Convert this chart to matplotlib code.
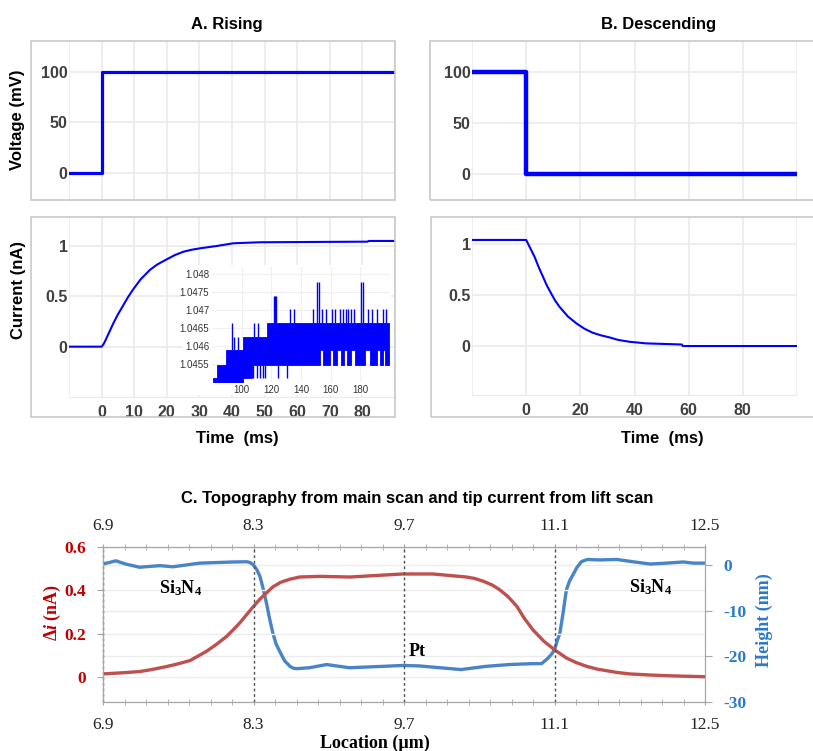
import matplotlib
matplotlib.use('Agg')

import matplotlib.pyplot as plt
from matplotlib.patches import Rectangle
from matplotlib.ticker import FixedLocator
import numpy as np

plt.rcParams['font.family'] = 'Liberation Sans'
plt.rcParams['mathtext.fontset'] = 'custom'
plt.rcParams['mathtext.rm'] = 'Liberation Serif:bold'
plt.rcParams['mathtext.it'] = 'Liberation Serif:bold:italic'
plt.rcParams['mathtext.bf'] = 'Liberation Serif:bold'

# ---- A / B: voltage step and current response ----
volt_rise_t = [-10, 0, 0, 90]
volt_rise_v = [0, 0, 100, 100]
volt_fall_t = [-20, 0, 0, 100]
volt_fall_v = [100, 100, 0, 0]

rise_t = [-10, 0, 0.5, 1.0, 2.0, 3.6, 5.0, 6.7, 8.0, 9.7, 12.0, 14.8, 17.0, 20.0, 22.5, 25.1,
          27.5, 30.2, 35.3, 40.4, 48.6, 81.5, 82.0, 90]
rise_i = [0, 0, 0.02, 0.05, 0.12, 0.232, 0.32, 0.414, 0.487, 0.57, 0.67, 0.762, 0.815, 0.868,
          0.91, 0.943, 0.962, 0.977, 1.0, 1.027, 1.037, 1.043, 1.05, 1.05]

fall_t = [-20, 0, 1.5, 3.1, 4.6, 6.2, 7.7, 9.2, 10.7, 12.3, 15.4, 18.5, 21.5, 24.6, 27.6,
          30.7, 34.0, 38.1, 44.3, 57.5, 57.8, 100]
fall_i = [1.04, 1.04, 0.96, 0.875, 0.775, 0.68, 0.59, 0.517, 0.445, 0.385, 0.29, 0.223, 0.17,
          0.13, 0.105, 0.085, 0.06, 0.042, 0.026, 0.015, 0.0, 0.0]

# zoomed plateau of the rising current (quantised levels)
levels = [1.04498, 1.0451, 1.04548, 1.04588, 1.04626, 1.04665, 1.04702, 1.0474, 1.04778]
seg_start = [80.4, 83.1, 89.4, 101.1, 106.8, 117.0, 123.2, 153.0, 154.8, 159.3, 161.5, 164.2,
             166.9, 168.7, 171.0, 173.7, 176.6, 183.4, 186.8, 191.3, 193.5, 195.3, 196.9]
seg_end = seg_start[1:] + [199.0]
seg_low = [0, 0, 0, 1, 2, 2, 2, 3, 2, 3, 2, 3, 2, 3, 2, 3, 2, 3, 2, 3, 2, 3, 2]
seg_high = [1, 2, 3, 4, 4, 5, 5, 5, 5, 5, 5, 5, 5, 5, 5, 5, 5, 5, 5, 5, 5, 5, 5]
spike_x = [93.2, 94.5, 97.5, 107.9, 108.3, 110.1, 111.0, 112.4, 114.2, 115.8, 121.5, 122.5,
           123.0, 124.8, 130.4, 132.5, 135.0, 148.0, 151.0, 152.0, 154.0, 157.0, 161.0,
           163.0, 166.0, 168.0, 170.0, 172.0, 174.0, 176.0, 180.5, 181.5, 185.0, 188.0,
           191.0, 195.0, 197.5]
spike_low = [3, 3, 3, 1, 4, 1, 4, 1, 1, 1, 5, 5, 5, 1, 1, 5, 5, 5, 5, 5, 5, 5, 5,
             5, 5, 5, 5, 5, 5, 5, 5, 5, 5, 5, 5, 5, 5]
spike_high = [5, 4, 4, 2, 5, 2, 5, 2, 2, 2, 7, 7, 7, 2, 2, 6, 6, 6, 8, 8, 6, 6, 6,
              6, 6, 6, 6, 6, 6, 6, 8, 8, 6, 6, 6, 6, 6]

# ---- C: line scan across Si3N4 / Pt / Si3N4 ----
loc_i = [6.9, 7.0, 7.1, 7.24, 7.35, 7.49, 7.6, 7.71, 7.86, 7.95, 8.05, 8.11, 8.17, 8.24, 8.30,
         8.36, 8.42, 8.48, 8.55, 8.64, 8.73, 8.92, 9.20, 9.51, 9.69, 9.97, 10.28, 10.36, 10.44,
         10.52, 10.59, 10.67, 10.75, 10.82, 10.90, 11.0, 11.10, 11.21, 11.3, 11.40, 11.5,
         11.68, 11.8, 11.99, 12.2, 12.5]
delta_i = [0.013, 0.016, 0.019, 0.024, 0.033, 0.047, 0.06, 0.075, 0.117, 0.148, 0.187, 0.217,
           0.248, 0.29, 0.326, 0.36, 0.388, 0.416, 0.437, 0.452, 0.462, 0.465, 0.462, 0.471,
           0.476, 0.476, 0.462, 0.455, 0.442, 0.425, 0.403, 0.37, 0.326, 0.27, 0.217, 0.165,
           0.125, 0.087, 0.066, 0.048, 0.035, 0.020, 0.013, 0.008, 0.004, 0.0]

loc_h = [6.9, 7.02, 7.11, 7.24, 7.43, 7.55, 7.80, 8.11, 8.24, 8.27, 8.30, 8.33, 8.36, 8.39,
         8.42, 8.45, 8.48, 8.51, 8.55, 8.59, 8.64, 8.67, 8.70, 8.82, 8.98, 9.10, 9.19, 9.50,
         9.69, 9.84, 10.23, 10.46, 10.68, 10.90, 10.98, 11.04, 11.07, 11.10, 11.12, 11.15,
         11.18, 11.21, 11.24, 11.28, 11.31, 11.35, 11.38, 11.41, 11.52, 11.68, 11.83, 11.99,
         12.14, 12.30, 12.39, 12.5]
height = [0.2, 0.9, 0.2, -0.5, -0.15, -0.4, 0.4, 0.65, 0.7, 0.5, 0.0, -1.0, -2.5, -5.2,
          -8.3, -11.8, -14.9, -17.3, -19.2, -21.0, -22.2, -22.6, -22.7, -22.5, -21.8, -22.2,
          -22.5, -22.2, -22.0, -22.1, -22.9, -22.2, -21.8, -21.6, -21.6, -20.4, -19.6, -18.6,
          -17.0, -14.9, -10.5, -5.5, -3.5, -1.8, -0.5, 0.7, 1.0, 1.2, 1.1, 1.2, 0.7, 0.2, 0.4,
          0.65, 0.4, 0.4]
loc_ticks = [6.9, 8.3, 9.7, 11.1, 12.5]

W, H = 813, 751
fig = plt.figure(figsize=(W / 100, H / 100), dpi=100)


def rect(x0, y0, x1, y1):
    return [x0 / W, 1 - y1 / H, (x1 - x0) / W, (y1 - y0) / H]


def ftext(x, y, s, **kw):
    fig.text(x / W, 1 - y / H, s, ha='center', va='center', **kw)


def frame(x0, y0, x1, y1):
    fig.patches.append(Rectangle((x0 / W, 1 - y1 / H), (x1 - x0) / W, (y1 - y0) / H,
                                 transform=fig.transFigure, fill=False,
                                 edgecolor='#c8c8c8', lw=1.2, zorder=0))


GRID = '#ebebeb'
BLUE = '#0000ff'
TICK = '#404040'


def trace_axes(box, xlim, ylim, xticks, xlabels, yticks, ylabels):
    ax = fig.add_axes(rect(*box))
    ax.set_xlim(*xlim)
    ax.set_ylim(*ylim)
    ax.set_xticks(xticks)
    ax.set_xticklabels(xlabels, fontweight='bold')
    ax.set_yticks(yticks)
    ax.set_yticklabels(ylabels, fontweight='bold')
    ax.tick_params(length=0, labelsize=11.5, labelcolor=TICK)
    ax.tick_params(axis='y', pad=1)
    ax.tick_params(axis='x', pad=6)
    for s in ax.spines.values():
        s.set_visible(False)
    ax.spines['bottom'].set_visible(True)
    ax.spines['bottom'].set_color(GRID)
    ax.grid(True, color=GRID, lw=1.2)
    ax.set_axisbelow(True)
    return ax


ticks_a = list(range(-10, 91, 10))
labels_a = [''] + [str(t) for t in ticks_a[1:-1]] + ['']
ticks_b = list(range(-20, 101, 20))
labels_b = [''] + [str(t) for t in ticks_b[1:-1]] + ['']

# A. Rising
frame(31, 41, 395, 200)
ax = trace_axes((69, 41, 395, 200), (-10, 90), (-26.3, 130.2), ticks_a, [''] * len(ticks_a),
                [0, 50, 100], ['0', '50', '100'])
ax.plot(volt_rise_t, volt_rise_v, color=BLUE, lw=2.3)

frame(31, 217, 395, 417)
ax = trace_axes((69, 217, 395, 397), (-10, 90), (-0.5, 1.288), ticks_a, labels_a,
                [0, 0.5, 1], ['0', '0.5', '1'])
ax.plot(rise_t, rise_i, color=BLUE, lw=1.5)

# inset of the plateau
fig.patches.append(Rectangle((183 / W, 1 - 395 / H), (391 - 183) / W, (395 - 265) / H,
                             transform=fig.transFigure, facecolor='white',
                             edgecolor='none', zorder=1))
axi = fig.add_axes(rect(212, 267, 390, 382), zorder=2)
axi.set_xlim(80, 200)
axi.set_ylim(1.045, 1.0482)
axi.set_xticks([100, 120, 140, 160, 180])
axi.set_yticks([1.0455, 1.046, 1.0465, 1.047, 1.0475, 1.048])
axi.set_yticklabels(['1.0455', '1.046', '1.0465', '1.047', '1.0475', '1.048'])
axi.tick_params(length=0, labelsize=7, labelcolor='#333333', pad=2)
for s in axi.spines.values():
    s.set_visible(False)
axi.grid(True, color='#f0f0f0', lw=0.8)
axi.set_axisbelow(True)
for x0, x1, lo, hi in zip(seg_start, seg_end, seg_low, seg_high):
    axi.fill_between([x0, x1], [levels[lo]] * 2, [levels[hi]] * 2, color=BLUE, lw=0.6)
axi.vlines(spike_x, [levels[k] for k in spike_low], [levels[k] for k in spike_high],
           color=BLUE, lw=1.0)

# B. Descending
frame(430, 41, 830, 200)
ax = trace_axes((472, 41, 797, 200), (-20, 100), (-25.4, 130), ticks_b, [''] * len(ticks_b),
                [0, 50, 100], ['0', '50', '100'])
ax.plot(volt_fall_t, volt_fall_v, color=BLUE, lw=3.2)

frame(431, 217, 830, 417)
ax = trace_axes((472, 217, 797, 395), (-20, 100), (-0.48, 1.265), ticks_b, labels_b,
                [0, 0.5, 1], ['0', '0.5', '1'])
ax.plot(fall_t, fall_i, color=BLUE, lw=1.5)

ftext(227, 24, 'A. Rising', fontsize=12, fontweight='bold')
ftext(659, 24, 'B. Descending', fontsize=12, fontweight='bold')
ftext(18, 120, 'Voltage (mV)', fontsize=12, fontweight='bold', rotation=90)
ftext(19, 290, 'Current (nA)', fontsize=12, fontweight='bold', rotation=90)
ftext(237, 438, 'Time  (ms)', fontsize=12, fontweight='bold')
ftext(662, 438, 'Time  (ms)', fontsize=12, fontweight='bold')

# C. Topography and lift-scan current
RED_LINE = '#c0504d'
RED_TXT = '#c00000'
BLUE_LINE = '#4a84c8'
BLUE_TXT = '#2a7ac9'
SPINE = '#a6a6a6'
serif = 'Liberation Serif'

axc = fig.add_axes(rect(103, 547, 705, 702))
axh = axc.twinx()
axc.set_zorder(axh.get_zorder() + 1)
axc.patch.set_visible(False)

axc.set_xlim(6.9, 12.5)
axc.set_ylim(-0.117, 0.601)
axh.set_ylim(-30, 3.93)

axh.plot(loc_h, height, color=BLUE_LINE, lw=2.4, solid_joinstyle='round')
axc.plot(loc_i, delta_i, color=RED_LINE, lw=2.4, solid_joinstyle='round')

for x in loc_ticks[:-1]:
    axc.axvline(x, color='#505050', ls=(0, (2, 2)), lw=1, clip_on=False)

minor = FixedLocator(np.arange(6.9, 12.55, 0.2))
axc.set_xticks(loc_ticks)
axc.set_xticklabels([f'{v:.1f}' for v in loc_ticks], family=serif)
axc.xaxis.set_minor_locator(minor)
axc.tick_params(axis='x', which='both', direction='inout', length=4, color=SPINE,
                labelsize=12.5, pad=9, labelcolor='#222222')
top = axc.secondary_xaxis('top')
top.set_xticks(loc_ticks)
top.set_xticklabels([f'{v:.1f}' for v in loc_ticks], family=serif)
top.xaxis.set_minor_locator(minor)
top.tick_params(axis='x', which='both', direction='inout', length=4, color=SPINE,
                labelsize=12.5, pad=7, labelcolor='#222222')
top.spines['top'].set_color(SPINE)

axc.set_yticks([0, 0.2, 0.4, 0.6])
axc.set_yticklabels(['0', '0.2', '0.4', '0.6'], family=serif, fontweight='bold')
axc.tick_params(axis='y', direction='out', length=4, color=SPINE, labelsize=12.5,
                labelcolor=RED_TXT, pad=8)
axh.set_yticks([0, -10, -20, -30])
axh.set_yticklabels(['0', '-10', '-20', '-30'], family=serif, fontweight='bold')
axh.tick_params(axis='y', direction='out', length=5, color=SPINE, labelsize=12.5,
                labelcolor=BLUE_TXT, pad=8)

axc.yaxis.grid(True, color='#ececec', lw=1)
axh.yaxis.grid(True, color='#ececec', lw=1)
for a in (axc, axh):
    for s in a.spines.values():
        s.set_color(SPINE)

axc.text(7.62, 0.411, 'Si$_3$N$_4$', family=serif, fontweight='bold', fontsize=13,
         ha='center', va='center')
axc.text(11.99, 0.416, 'Si$_3$N$_4$', family=serif, fontweight='bold', fontsize=13,
         ha='center', va='center')
axc.text(9.82, 0.119, 'Pt', family=serif, fontweight='bold', fontsize=13,
         ha='center', va='center')

ftext(417, 498, 'C. Topography from main scan and tip current from lift scan',
      fontsize=12, fontweight='bold')
ftext(375, 743, 'Location (µm)', family=serif, fontsize=13, fontweight='bold')
ftext(52, 612, 'Δ$i$ (nA)', family=serif, fontsize=13, fontweight='bold',
      color=RED_TXT, rotation=90)
ftext(764, 620, 'Height (nm)', family=serif, fontsize=13, fontweight='bold',
      color=BLUE_TXT, rotation=90)

fig.savefig('out.png', dpi=100)
plt.close(fig)
